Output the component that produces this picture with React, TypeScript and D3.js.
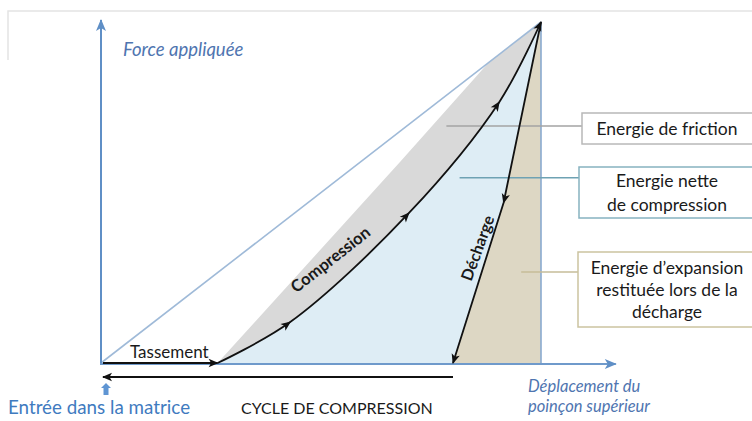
import React, { useRef, useEffect } from "react";
import * as d3 from "d3";

// displacement (x) / force (y), both on a 0..100 scale, peak at (100, 100)
const compressionX = [26.5, 43, 70, 90.5, 100];
const compressionY = [0, 12, 44, 76.5, 100];
const dechargeX = [100, 91.5, 80];
const dechargeY = [100, 47, 0];
const frictionEdgeX = [26.5, 68, 88, 100];
const frictionEdgeY = [0, 59, 88, 100];
const tassementX = [0, 26.5];
const cycleX = [80, 0];
const axisMaxX = 117;
const axisMaxY = 100.6;

const legendLabels = [
  ["Energie de friction"],
  ["Energie nette", "de compression"],
  ["Energie d\u2019expansion", "restituée lors de la", "décharge"],
];
// where each connector starts, in chart units
const legendAnchorX = [78.5, 81.5, 95.5];
const legendAnchorY = [69.5, 54.3, 26.7];

const FONT = "Lato, 'Open Sans', sans-serif";

const App = () => {
  const svgRef = useRef<SVGSVGElement | null>(null);

  useEffect(() => {
    const svg = d3.select(svgRef.current);
    svg.selectAll("*").remove();

    const x = d3.scaleLinear().domain([0, 100]).range([101, 541]);
    const y = d3.scaleLinear().domain([0, 100]).range([363, 22]);

    const defs = svg.append("defs");
    defs.append("marker")
      .attr("id", "blackHead")
      .attr("markerUnits", "userSpaceOnUse")
      .attr("viewBox", "-10 -5 12 10")
      .attr("refX", 0).attr("refY", 0)
      .attr("markerWidth", 12).attr("markerHeight", 10)
      .attr("orient", "auto")
      .append("path")
      .attr("d", "M-9,-4.2 L1,0 L-9,4.2 L-6.5,0 Z")
      .attr("fill", "#111");
    defs.append("marker")
      .attr("id", "blueHead")
      .attr("markerUnits", "userSpaceOnUse")
      .attr("viewBox", "-12 -6 14 12")
      .attr("refX", 0).attr("refY", 0)
      .attr("markerWidth", 14).attr("markerHeight", 12)
      .attr("orient", "auto")
      .append("path")
      .attr("d", "M-11,-5 L1,0 L-11,5 L-8,0 Z")
      .attr("fill", "#5f8fc6");

    // frame
    svg.append("path")
      .attr("d", "M8,60 L8,11 L752,11")
      .attr("fill", "none")
      .attr("stroke", "#e4e4e4")
      .attr("stroke-width", 1.5);

    const comp = compressionX.map((d, i) => [x(d), y(compressionY[i])] as [number, number]);
    const dech = dechargeX.map((d, i) => [x(d), y(dechargeY[i])] as [number, number]);
    const edge = frictionEdgeX.map((d, i) => [x(d), y(frictionEdgeY[i])] as [number, number]);

    const curve = d3.line().curve(d3.curveCatmullRom.alpha(0.5));
    const straight = d3.line();
    const compPath = curve(comp) as string;
    const compBack = (curve([...comp].reverse()) as string).replace(/^M/, "L");

    // net compression energy (light blue)
    svg.append("path")
      .attr("d", compPath + (straight(dech) as string).replace(/^M/, "L") + "Z")
      .attr("fill", "#deedf5");

    // friction energy (grey)
    svg.append("path")
      .attr("d", (straight(edge) as string) + compBack + "Z")
      .attr("fill", "#d9d9d9");

    // expansion energy (beige)
    svg.append("path")
      .attr("d", (straight(dech) as string) + `L${x(100)},${y(0)}Z`)
      .attr("fill", "#ddd7c4");

    // diagonal reference line
    svg.append("line")
      .attr("x1", x(0)).attr("y1", y(0))
      .attr("x2", x(100)).attr("y2", y(100))
      .attr("stroke", "#9fbad8")
      .attr("stroke-width", 1.6);

    // vertical at max displacement
    svg.append("line")
      .attr("x1", x(100)).attr("y1", y(100))
      .attr("x2", x(100)).attr("y2", y(0))
      .attr("stroke", "#8aaad0")
      .attr("stroke-width", 1.6);

    // axes
    svg.append("line")
      .attr("x1", x(0)).attr("y1", y(0) + 1)
      .attr("x2", x(0)).attr("y2", y(axisMaxY))
      .attr("stroke", "#5f8fc6").attr("stroke-width", 2)
      .attr("marker-end", "url(#blueHead)");
    svg.append("line")
      .attr("x1", x(0) - 1).attr("y1", y(0) + 1)
      .attr("x2", x(axisMaxX)).attr("y2", y(0) + 1)
      .attr("stroke", "#6f9acb").attr("stroke-width", 2)
      .attr("marker-end", "url(#blueHead)");

    // legend connectors and boxes
    const connColors = ["#a3a3a3", "#6ea2b3", "#c6bd98"];
    const boxColors = ["#b8b8b8", "#86b2c0", "#cbc3a0"];
    const boxTop = [113, 167, 252];
    const boxBottom = [144, 218, 327];
    const boxLeft = [582, 579, 578];
    const lineH = [22, 24, 22];
    legendLabels.forEach((lines, i) => {
      const cy = (boxTop[i] + boxBottom[i]) / 2;
      svg.append("line")
        .attr("x1", x(legendAnchorX[i])).attr("y1", y(legendAnchorY[i]))
        .attr("x2", boxLeft[i]).attr("y2", y(legendAnchorY[i]))
        .attr("stroke", connColors[i]).attr("stroke-width", 1.5);
      svg.append("rect")
        .attr("x", boxLeft[i]).attr("y", boxTop[i])
        .attr("width", 800 - boxLeft[i]).attr("height", boxBottom[i] - boxTop[i])
        .attr("fill", "#fff")
        .attr("stroke", boxColors[i]).attr("stroke-width", 1.5);
      lines.forEach((t, j) => {
        svg.append("text")
          .attr("x", 667)
          .attr("y", cy + (j - (lines.length - 1) / 2) * lineH[i])
          .attr("dy", "0.35em")
          .attr("text-anchor", "middle")
          .attr("font-family", FONT)
          .attr("font-size", 17.5)
          .attr("fill", "#1a1a1a")
          .text(t);
      });
    });

    // tassement arrow
    svg.append("line")
      .attr("x1", x(tassementX[0]) + 2).attr("y1", y(0))
      .attr("x2", x(tassementX[1])).attr("y2", y(0))
      .attr("stroke", "#111").attr("stroke-width", 1.8)
      .attr("marker-end", "url(#blackHead)");

    // compression curve with arrows at each point
    svg.append("path")
      .attr("d", compPath)
      .attr("fill", "none")
      .attr("stroke", "#111").attr("stroke-width", 1.8)
      .attr("marker-mid", "url(#blackHead)")
      .attr("marker-end", "url(#blackHead)");

    // decharge
    svg.append("path")
      .attr("d", straight(dech) as string)
      .attr("fill", "none")
      .attr("stroke", "#111").attr("stroke-width", 1.8)
      .attr("marker-mid", "url(#blackHead)")
      .attr("marker-end", "url(#blackHead)");

    // cycle arrow
    svg.append("line")
      .attr("x1", x(cycleX[0])).attr("y1", y(0) + 14)
      .attr("x2", x(cycleX[1]) + 2).attr("y2", y(0) + 14)
      .attr("stroke", "#111").attr("stroke-width", 1.8)
      .attr("marker-end", "url(#blackHead)");

    // small entry arrow
    const ex = x(0) + 5;
    svg.append("path")
      .attr("d", `M${ex},383 L${ex + 5},388 L${ex + 2.5},388 L${ex + 2.5},395 L${ex - 2.5},395 L${ex - 2.5},388 L${ex - 5},388 Z`)
      .attr("fill", "#5f95d3");

    const label = (t: string, tx: number, ty: number, opts: any = {}) => {
      const el = svg.append("text")
        .attr("x", tx).attr("y", ty)
        .attr("font-family", FONT)
        .attr("font-size", opts.size || 15)
        .attr("font-style", opts.italic ? "italic" : "normal")
        .attr("font-weight", opts.bold ? 700 : 400)
        .attr("fill", opts.color || "#1a1a1a")
        .attr("text-anchor", opts.anchor || "start")
        .text(t);
      if (opts.rotate) el.attr("transform", `rotate(${opts.rotate},${tx},${ty})`);
      return el;
    };

    label("Force appliquée", 123, 56, { italic: true, color: "#4f75b0", size: 18.5 });
    label("Tassement", 130, 358, { size: 17 });
    label("Compression", 334, 264, { bold: true, rotate: -38, anchor: "middle", size: 16.5 });
    label("Décharge", 483, 250, { bold: true, rotate: -70, anchor: "middle", size: 16 });
    label("Entrée dans la matrice", 8, 414, { color: "#3f7bbf", size: 18.8 });
    label("CYCLE DE COMPRESSION", 241, 414, { size: 16 });
    label("Déplacement du", 528, 392, { italic: true, color: "#4f75b0", size: 16.5 });
    label("poinçon supérieur", 528, 412, { italic: true, color: "#4f75b0", size: 16.5 });
  }, []);

  return (
    <svg
      ref={svgRef}
      width={752}
      height={421}
      style={{ position: "absolute", left: 0, top: 0, background: "#fff" }}
    />
  );
};

export default App;
